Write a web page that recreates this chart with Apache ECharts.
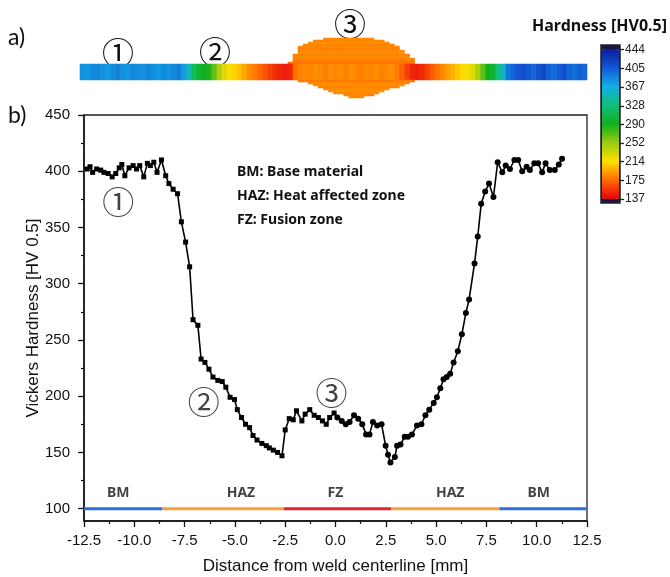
<!DOCTYPE html>
<html>
<head>
<meta charset="utf-8">
<script src="https://cdn.jsdelivr.net/npm/echarts@6/dist/echarts.min.js"></script>
<style>
html,body{margin:0;padding:0;background:#fff;}
#main{width:670px;height:577px;}
</style>
</head>
<body>
<div id="main"></div>
<script>
// hardness profile (b)
var distMM = [-12.34,-12.20,-12.07,-11.87,-11.67,-11.51,-11.30,-11.10,-10.92,-10.75,-10.62,-10.47,-10.26,-10.06,-9.89,-9.73,-9.53,-9.35,-9.20,-9.03,
	-8.87,-8.65,-8.44,-8.28,-8.07,-7.85,-7.66,-7.45,-7.25,-7.08,-6.84,-6.68,-6.49,-6.29,-6.09,-5.85,-5.63,-5.45,-5.24,-5.02,
	-4.88,-4.67,-4.47,-4.27,-4.10,-3.90,-3.66,-3.44,-3.29,-3.09,-2.88,-2.66,-2.50,-2.30,-2.10,-1.94,-1.67,-1.51,-1.28,-1.06,
	-0.85,-0.65,-0.46,-0.29,-0.07,0.09,0.31,0.51,0.70,0.92,1.13,1.33,1.52,1.69,1.86,2.07,2.29,2.49,2.61,2.73,
	2.95,3.06,3.23,3.44,3.60,3.80,4.05,4.27,4.47,4.66,4.88,5.04,5.21,5.37,5.53,5.70,5.87,6.08,6.28,6.48,
	6.64,6.91,7.07,7.24,7.44,7.63,7.85,8.06,8.29,8.46,8.67,8.89,9.08,9.28,9.50,9.66,9.88,10.07,10.27,10.44,
	10.65,10.90,11.10,11.26];
var hardHV = [402,404,399,402,401,399,398,395,398,403,406,396,403,405,402,405,395,407,405,408,
	399,410,396,389,384,380,355,337,315,268,263,233,230,224,217,214,213,208,199,197,
	188,181,175,172,165,161,158,156,154,152,150,147,170,180,179,187,178,184,188,183,
	181,178,175,181,185,181,178,175,177,183,180,175,166,166,177,174,175,156,148,141,
	146,156,157,164,164,166,174,175,183,188,194,199,207,215,217,220,230,240,255,274,
	286,318,342,371,382,389,377,408,399,405,402,410,410,400,404,401,407,407,399,407,
	401,401,406,411];

// zones along the 100 HV line
var zoneEdges = [-12.5, -8.6, -2.57, 2.78, 8.14, 12.5];
var zoneNames = ['BM', 'HAZ', 'FZ', 'HAZ', 'BM'];
var zoneLabelX = [-10.8, -4.7, 0.0, 5.7, 10.1];

// circled markers in plot b)
var noteText = ['①', '②', '③'];
var noteX = [-10.8, -6.55, -0.2];
var noteY = [373, 195, 203];

// colour bar ticks
var barTicks = [137, 175, 214, 252, 290, 328, 367, 405, 444];
var yTicks = [100, 150, 200, 250, 300, 350, 400, 450];
var yMinorTicks = [125, 175, 225, 275, 325, 375, 425];

// hardness map (a): 100 columns x 30 rows, rows 13-20 are the sheet
var stripHV = [380,378,382,385,380,376,383,388,380,378,384,382,379,386,381,377,383,380,384,388,375,
	350,315,298,292,286,268,245,226,216,210,204,195,186,180,174,168,160,154,150,147,150,
	178,183,186,184,188,185,182,187,184,186,183,188,185,182,186,184,187,183,185,188,182,172,160,
	150,148,152,160,170,178,185,192,198,205,212,218,226,245,270,290,300,330,355,
	392,400,408,412,405,398,410,415,402,396,404,410,400,395,402,398];
var blobCols = [[48,57],[46,59],[45,60],[44,61],[43,62],[43,62],[43,63],[43,63],[42,64],[42,64],[42,65],[42,65],[41,65],
	null,null,null,null,null,null,null,null,
	[43,65],[45,64],[46,63],[47,62],[48,60],[49,59],[50,58],[52,57],[53,55]];
var blobHV = [186,184,188,183,186,182,185,187,183,186,184,181,178,
	null,null,null,null,null,null,null,null,
	180,184,187,183,186,188,185,184,186];
var stripRows = [13, 20];

var mapData = [];
var colNames = [];
var rowNames = [];
for (var c = 0; c < stripHV.length; c++) colNames.push('' + c);
for (var r = 0; r < blobCols.length; r++) {
	rowNames.push('' + r);
	if (r >= stripRows[0] && r <= stripRows[1]) {
		for (var c = 0; c < stripHV.length; c++) mapData.push([c, r, stripHV[c]]);
	} else if (blobCols[r]) {
		for (var c = blobCols[r][0]; c <= blobCols[r][1]; c++) mapData.push([c, r, blobHV[r]]);
	}
}

var profile = [];
for (var i = 0; i < distMM.length; i++) profile.push([distMM[i], hardHV[i]]);

var zoneColors = ['#2a6fdb', '#f7a13a', '#e8202e', '#f7a13a', '#2a6fdb'];
var boldFont = 'Noto Sans';
var series = [];

series.push({
	type: 'heatmap', xAxisIndex: 1, yAxisIndex: 2,
	data: mapData, silent: true
});

for (var i = 0; i < zoneNames.length; i++) {
	series.push({
		type: 'line', xAxisIndex: 0, yAxisIndex: 0, symbol: 'none', silent: true,
		lineStyle: {color: zoneColors[i], width: 3},
		data: [[zoneEdges[i], 100], [zoneEdges[i + 1], 100]]
	});
}

series.push({
	type: 'line', xAxisIndex: 0, yAxisIndex: 0,
	data: profile,
	symbol: function(v){ return v[0] < 0 ? 'rect' : 'circle'; },
	symbolSize: function(v){ return v[0] < 0 ? 5 : 6; },
	itemStyle: {color: '#000'},
	lineStyle: {color: '#000', width: 1.6}
});

var zoneLabels = [];
for (var i = 0; i < zoneNames.length; i++) zoneLabels.push({value: [zoneLabelX[i], 100], name: zoneNames[i]});
series.push({
	type: 'scatter', xAxisIndex: 0, yAxisIndex: 0, symbolSize: 1, silent: true,
	itemStyle: {color: 'rgba(0,0,0,0)'},
	label: {show: true, position: 'top', distance: 8, formatter: '{b}',
		fontFamily: boldFont, fontWeight: 'bold', fontSize: 14, color: '#111'},
	data: zoneLabels
});

var notes = [];
for (var i = 0; i < noteText.length; i++) notes.push({value: [noteX[i], noteY[i]], name: noteText[i]});
series.push({
	type: 'scatter', xAxisIndex: 0, yAxisIndex: 0, symbolSize: 1, silent: true,
	itemStyle: {color: 'rgba(0,0,0,0)'},
	label: {show: true, position: 'inside', formatter: '{b}',
		fontFamily: 'Noto Sans CJK SC', fontSize: 32, color: '#111'},
	data: notes
});

var axisFont = {fontFamily: 'Liberation Sans', fontSize: 15, color: '#111'};

option = {
	animation: false,
	backgroundColor: '#fff',
	grid: [
		{left: 84, top: 115, width: 503, height: 406, show: true, borderColor: '#222', borderWidth: 1.3, outerBoundsMode: 'none'},
		{left: 80, top: 38, width: 507, height: 60, outerBoundsMode: 'none'},
		{left: 601, top: 45, width: 19, height: 158, show: true, borderColor: '#222', borderWidth: 1.5, backgroundColor: '#1a1440', outerBoundsMode: 'none'}
	],
	xAxis: [
		{
			type: 'value', gridIndex: 0, min: -12.5, max: 12.5, interval: 2.5,
			name: 'Distance from weld centerline [mm]', nameLocation: 'middle', nameGap: 37,
			nameTextStyle: {fontFamily: 'Liberation Sans', fontSize: 17, color: '#111'},
			axisLine: {onZero: false, lineStyle: {color: '#111', width: 1.5}},
			axisTick: {length: 6, lineStyle: {color: '#111', width: 1.3}},
			minorTick: {show: true, splitNumber: 2, length: 3, lineStyle: {color: '#111', width: 1.2}},
			axisLabel: Object.assign({margin: 12, formatter: function(v){ return v.toFixed(1); }}, axisFont),
			splitLine: {show: false}
		},
		{type: 'category', gridIndex: 1, data: colNames, show: false},
		{type: 'value', gridIndex: 2, show: false}
	],
	yAxis: [
		{
			type: 'value', gridIndex: 0, min: 89, max: 450, position: 'left',
			axisLine: {show: true, onZero: false, lineStyle: {color: '#111', width: 1.5}},
			axisTick: {show: true, length: 6, customValues: yTicks, lineStyle: {color: '#111', width: 1.3}},
			axisLabel: Object.assign({margin: 14, customValues: yTicks}, axisFont),
			splitLine: {show: false}
		},
		{
			type: 'value', gridIndex: 0, min: 89, max: 450, position: 'left',
			axisLine: {show: false, onZero: false},
			axisTick: {show: true, length: 3, customValues: yMinorTicks, lineStyle: {color: '#111', width: 1.2}},
			axisLabel: {show: false},
			splitLine: {show: false}
		},
		{type: 'category', gridIndex: 1, data: rowNames, inverse: true, show: false},
		{
			type: 'value', gridIndex: 2, position: 'right', min: 128.8, max: 452.8,
			axisLine: {show: false, onZero: false},
			axisTick: {show: true, length: 4, customValues: barTicks, lineStyle: {color: '#222', width: 1.3}},
			axisLabel: {show: true, margin: 5, customValues: barTicks,
				fontFamily: 'Liberation Sans', fontSize: 12, color: '#222'},
			splitLine: {show: false}
		}
	],
	visualMap: {
		type: 'continuous', seriesIndex: 0, min: 137, max: 444,
		left: 602, top: 49, itemWidth: 17, itemHeight: 150, padding: 0,
		calculable: false, hoverLink: false,
		inRange: {color: ['#e8000e', '#ff6a00', '#ffe000', '#9acb10', '#10b020', '#10c07a', '#12aee4', '#1258d4', '#0a1c9c']}
	},
	graphic: [
		{type: 'text', left: 8, top: 26, style: {text: 'a)', fontFamily: 'Lato', fontSize: 23, fill: '#111'}},
		{type: 'text', left: 8, top: 104, style: {text: 'b)', fontFamily: 'Lato', fontSize: 23, fill: '#111'}},
		{type: 'text', x: 33, y: 318, rotation: Math.PI / 2,
			style: {text: 'Vickers Hardness [HV 0.5]', fontFamily: 'Liberation Sans', fontSize: 17, fill: '#111', align: 'center', verticalAlign: 'middle'}},
		{type: 'text', right: 3, top: 18, style: {text: 'Hardness [HV0.5]', fontFamily: boldFont, fontWeight: 'bold', fontSize: 16, fill: '#111'}},
		{type: 'text', x: 118, y: 53, style: {text: '①', fontFamily: 'Noto Sans CJK SC', fontSize: 32, fill: '#111', align: 'center', verticalAlign: 'middle'}},
		{type: 'text', x: 215, y: 52, style: {text: '②', fontFamily: 'Noto Sans CJK SC', fontSize: 32, fill: '#111', align: 'center', verticalAlign: 'middle'}},
		{type: 'text', x: 350, y: 24, style: {text: '③', fontFamily: 'Noto Sans CJK SC', fontSize: 32, fill: '#111', align: 'center', verticalAlign: 'middle'}},
		{type: 'text', x: 237, y: 172, style: {text: 'BM: Base material', fontFamily: boldFont, fontWeight: 'bold', fontSize: 14, fill: '#111', verticalAlign: 'middle'}},
		{type: 'text', x: 237, y: 196, style: {text: 'HAZ: Heat affected zone', fontFamily: boldFont, fontWeight: 'bold', fontSize: 14, fill: '#111', verticalAlign: 'middle'}},
		{type: 'text', x: 237, y: 220, style: {text: 'FZ: Fusion zone', fontFamily: boldFont, fontWeight: 'bold', fontSize: 14, fill: '#111', verticalAlign: 'middle'}}
	],
	series: series
};

var myChart = echarts.init(document.getElementById('main'));
myChart.setOption(option);
</script>
</body>
</html>
